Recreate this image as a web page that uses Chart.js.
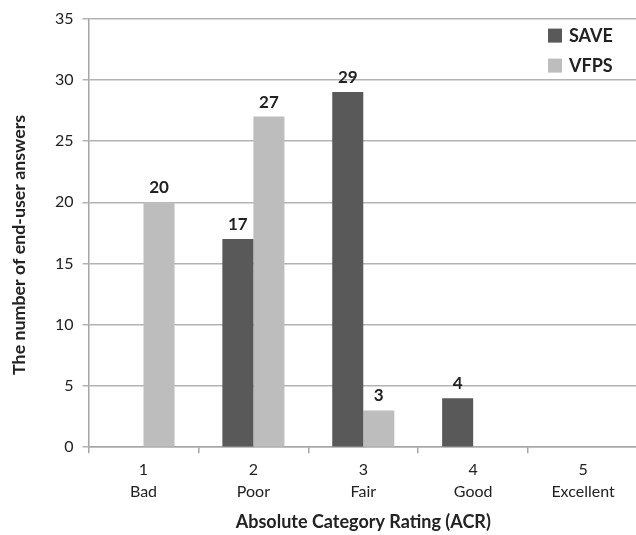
<!DOCTYPE html>
<html>
<head>
<meta charset="utf-8">
<script src="https://cdn.jsdelivr.net/npm/chart.js@4.4.1/dist/chart.umd.min.js"></script>
<style>
  html, body { margin: 0; padding: 0; background: #ffffff; overflow: hidden; }
  #wrap { width: 640px; height: 535px; }
</style>
</head>
<body>
<div id="wrap"><canvas id="c" width="640" height="535"></canvas></div>
<script>
// Rating scale (ACR) and answer counts per method
const ratingNumbers = ['1', '2', '3', '4', '5'];
const ratingNames = ['Bad', 'Poor', 'Fair', 'Good', 'Excellent'];
const seriesNames = ['SAVE', 'VFPS'];
const saveCounts = [0, 17, 29, 4, 0];
const vfpsCounts = [20, 27, 3, 0, 0];
const yTicks = [0, 5, 10, 15, 20, 25, 30, 35];
const yTitle = 'The number of end-user answers';

const FONT = 'Lato, "Open Sans", sans-serif';
const TEXT = '#222222';

// Value labels above each non-zero bar
const valueLabels = {
  id: 'valueLabels',
  afterDatasetsDraw(chart) {
    const ctx = chart.ctx;
    ctx.save();
    ctx.font = 'bold 17px ' + FONT;
    ctx.fillStyle = TEXT;
    ctx.textAlign = 'center';
    ctx.textBaseline = 'alphabetic';
    chart.data.datasets.forEach((ds, di) => {
      const meta = chart.getDatasetMeta(di);
      meta.data.forEach((bar, i) => {
        const v = ds.data[i];
        if (!v) return;
        ctx.fillText(String(v), bar.x, bar.y - 9);
      });
    });
    ctx.restore();
  }
};

// Legend drawn inside the top-right corner of the plot
const insideLegend = {
  id: 'insideLegend',
  afterDraw(chart) {
    const ctx = chart.ctx;
    const area = chart.chartArea;
    ctx.save();
    ctx.font = 'bold 18px ' + FONT;
    ctx.textAlign = 'left';
    ctx.textBaseline = 'middle';
    chart.data.datasets.forEach((ds, di) => {
      const y = area.top + 17 + di * 30;
      const x = area.right - 90;
      ctx.fillStyle = ds.backgroundColor;
      ctx.fillRect(x, y - 7, 14, 14);
      ctx.fillStyle = TEXT;
      ctx.fillText(ds.label, x + 21, y + 1);
    });
    ctx.restore();
  }
};

// Vertical axis title, set a little below the plot's middle
const yAxisTitle = {
  id: 'yAxisTitle',
  afterDraw(chart) {
    const ctx = chart.ctx;
    const area = chart.chartArea;
    ctx.save();
    ctx.translate(area.left - 69, (area.top + area.bottom) / 2 + 12);
    ctx.rotate(-Math.PI / 2);
    ctx.font = 'bold 17.8px ' + FONT;
    ctx.fillStyle = TEXT;
    ctx.textAlign = 'center';
    ctx.textBaseline = 'middle';
    ctx.fillText(yTitle, 0, 0);
    ctx.restore();
  }
};

new Chart(document.getElementById('c'), {
  type: 'bar',
  data: {
    labels: ratingNumbers.map((n, i) => [n, ratingNames[i]]),
    datasets: [
      { label: seriesNames[0], data: saveCounts, backgroundColor: '#595959' },
      { label: seriesNames[1], data: vfpsCounts, backgroundColor: '#bdbdbd' }
    ]
  },
  options: {
    responsive: false,
    animation: false,
    devicePixelRatio: 1,
    layout: { padding: { top: 14, left: 46, right: 2, bottom: 2 } },
    datasets: { bar: { categoryPercentage: 0.565, barPercentage: 1.0 } },
    plugins: {
      legend: { display: false },
      tooltip: { enabled: false }
    },
    scales: {
      x: {
        offset: true,
        grid: {
          offset: true,
          drawOnChartArea: false,
          drawTicks: true,
          tickLength: 6,
          color: '#a6a6a6',
          lineWidth: 1.5
        },
        border: { color: '#a6a6a6', width: 1.5 },
        ticks: {
          color: TEXT,
          font: { family: FONT, size: 16, lineHeight: 1.35 },
          padding: 6,
          maxRotation: 0
        },
        title: {
          display: true,
          text: 'Absolute Category Rating (ACR)',
          color: TEXT,
          font: { family: FONT, size: 18, weight: 'bold' },
          padding: { top: 3, bottom: 0 }
        }
      },
      y: {
        min: 0,
        max: 35,
        afterBuildTicks(axis) { axis.ticks = yTicks.map(v => ({ value: v })); },
        grid: {
          color: '#b3b3b3',
          lineWidth: 1.5,
          drawTicks: true,
          tickLength: 6
        },
        border: { color: '#a6a6a6', width: 1.5 },
        ticks: {
          color: TEXT,
          font: { family: FONT, size: 16 },
          padding: 9
        },
        title: { display: false }
      }
    }
  },
  plugins: [valueLabels, insideLegend, yAxisTitle]
});
</script>
</body>
</html>
